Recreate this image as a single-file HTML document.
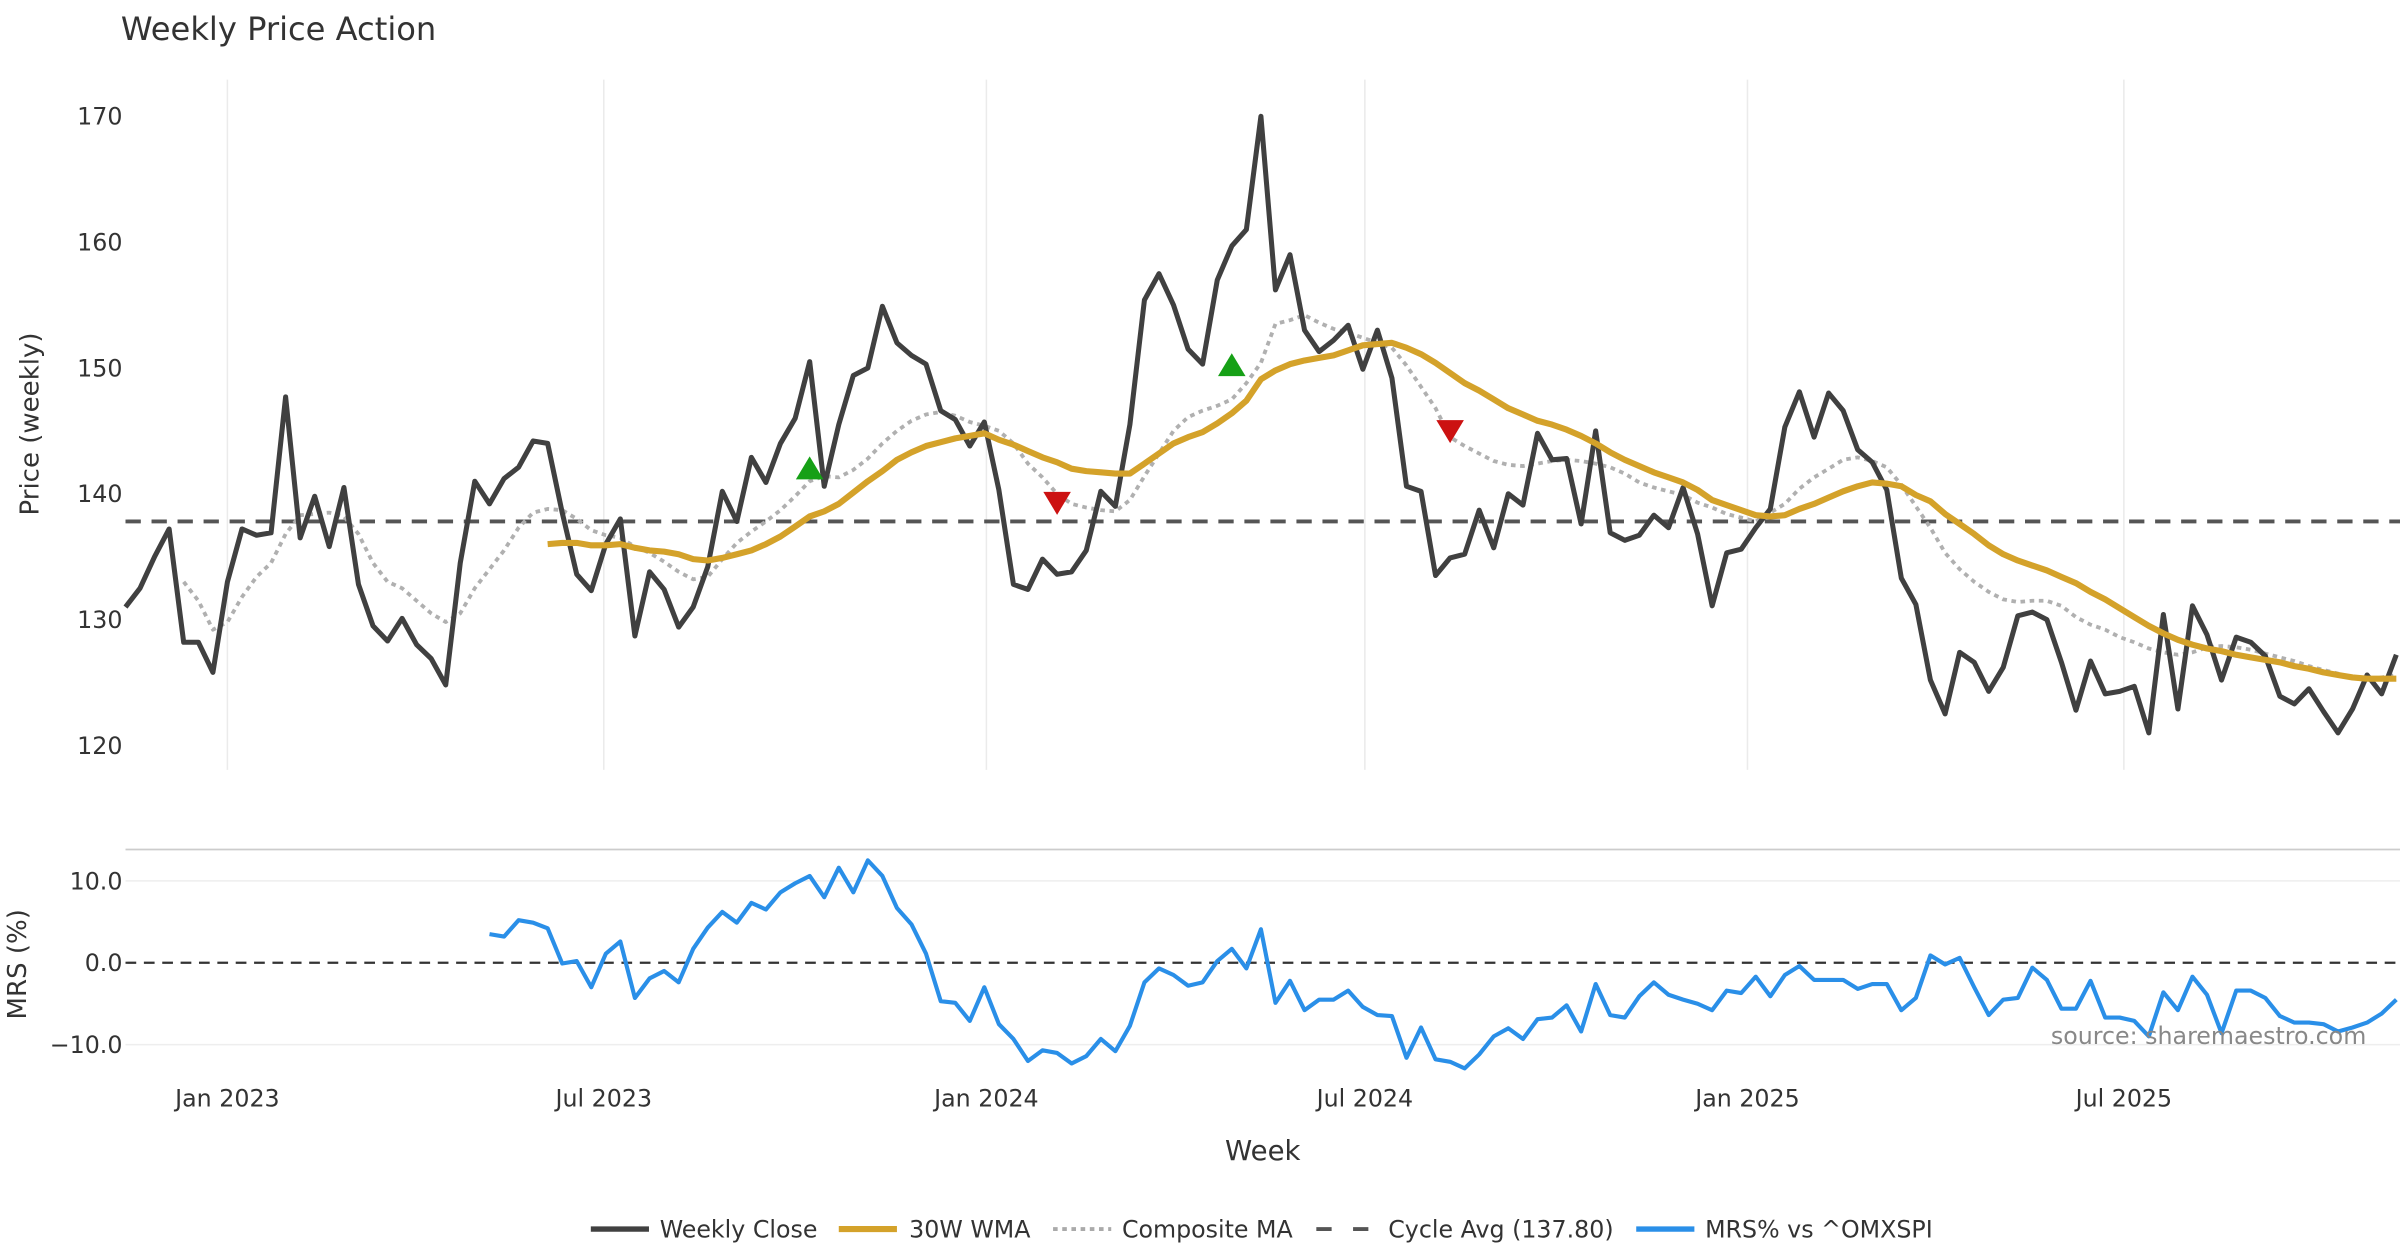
<!DOCTYPE html>
<html><head><meta charset="utf-8"><style>
html,body{margin:0;padding:0;background:#fff;}
svg{display:block;font-family:"DejaVu Sans","Liberation Sans",sans-serif;}
</style></head><body>
<svg id="chart" width="2400" height="1260" viewBox="0 0 1568 823.2" xmlns="http://www.w3.org/2000/svg">
<rect width="1568" height="823.2" fill="#fff"/>
<text x="79" y="26" font-size="21" fill="#333">Weekly Price Action</text>
<g id="grid"></g>
<g id="main"></g>
<g id="mrs"></g>
<g id="axes"></g>
<text transform="translate(25,277) rotate(-90)" text-anchor="middle" font-size="17" fill="#333">Price (weekly)</text>
<text transform="translate(17,630) rotate(-90)" text-anchor="middle" font-size="17" fill="#333">MRS (%)</text>
<text x="825" y="758" text-anchor="middle" font-size="18" fill="#333">Week</text>
<text x="1546" y="682" text-anchor="end" font-size="15.5" fill="#888">source: sharemaestro.com</text>
<g id="legend" font-size="15.5" fill="#333">
  <g><line x1="386" y1="803" x2="424" y2="803" stroke="#404040" stroke-width="3.5"/><text x="431" y="808.5">Weekly Close</text></g>
  <g><line x1="548" y1="803" x2="586" y2="803" stroke="#d4a22a" stroke-width="4"/><text x="594" y="808.5">30W WMA</text></g>
  <g><line x1="688" y1="803" x2="726" y2="803" stroke="#aaa" stroke-width="2.5" stroke-dasharray="3,3"/><text x="733" y="808.5">Composite MA</text></g>
  <g><line x1="860" y1="803" x2="898" y2="803" stroke="#555" stroke-width="2.5" stroke-dasharray="10,14"/><text x="907" y="808.5">Cycle Avg (137.80)</text></g>
  <g><line x1="1069" y1="803" x2="1107" y2="803" stroke="#2a8fe8" stroke-width="3.5"/><text x="1114" y="808.5">MRS% vs ^OMXSPI</text></g>
</g>
</svg>
<script>
const closeVals=[131,132.5,135,137.2,128.2,128.2,125.8,133,137.2,136.7,136.9,147.7,136.5,139.8,135.8,140.5,132.8,129.5,128.3,130.1,128,126.9,124.8,134.5,141,139.2,141.2,142.1,144.2,144,138.5,133.6,132.3,136,138,128.7,133.8,132.4,129.4,131,134.2,140.2,137.8,142.9,140.9,144,146,150.5,140.6,145.5,149.4,150,154.9,152,151,150.3,146.6,145.9,143.8,145.7,140.3,132.8,132.4,134.8,133.6,133.8,135.5,140.2,139,145.5,155.4,157.5,155,151.5,150.3,157,159.7,161,170,156.2,159,153,151.3,152.2,153.4,149.9,153,149.2,140.6,140.2,133.5,134.9,135.2,138.7,135.7,140,139.1,144.8,142.7,142.8,137.6,145,136.9,136.3,136.7,138.3,137.3,140.5,136.8,131.1,135.3,135.6,137.3,138.8,145.3,148.1,144.5,148,146.6,143.5,142.5,140.3,133.3,131.2,125.2,122.5,127.4,126.6,124.3,126.2,130.3,130.6,130,126.6,122.8,126.7,124.1,124.3,124.7,121,130.4,122.9,131.1,128.8,125.2,128.6,128.2,127.1,123.9,123.3,124.5,122.7,121,122.9,125.6,124.1,127.2];
const wmaStart=29;
const wmaVals=[136,136.1,136.1,135.9,135.9,136,135.7,135.5,135.4,135.2,134.8,134.7,134.9,135.2,135.5,136,136.6,137.4,138.2,138.6,139.2,140.1,141,141.8,142.7,143.3,143.8,144.1,144.4,144.6,144.8,144.3,143.9,143.4,142.9,142.5,142,141.8,141.7,141.6,141.6,142.4,143.2,144,144.5,144.9,145.6,146.4,147.4,149.1,149.8,150.3,150.6,150.8,151,151.4,151.8,151.9,152,151.6,151.1,150.4,149.6,148.8,148.2,147.5,146.8,146.3,145.8,145.5,145.1,144.6,144,143.3,142.7,142.2,141.7,141.3,140.9,140.3,139.5,139.1,138.7,138.3,138.2,138.3,138.8,139.2,139.7,140.2,140.6,140.9,140.8,140.6,139.9,139.4,138.4,137.6,136.8,135.9,135.2,134.7,134.3,133.9,133.4,132.9,132.2,131.6,130.9,130.2,129.5,128.9,128.4,128,127.7,127.5,127.2,127,126.8,126.6,126.3,126.1,125.8,125.6,125.4,125.3,125.3,125.3];
const compStart=4;
const compVals=[133,131.5,129.2,129.8,131.8,133.4,134.5,136.8,138.3,138.4,138.5,138.2,136.8,134.5,133,132.5,131.5,130.5,129.8,130.5,132.5,134,135.5,137.3,138.5,138.8,138.7,138,137.1,136.7,136.5,135.8,135.3,134.6,133.8,133.2,133.4,134.8,136.1,137,137.8,138.7,139.8,141,141.4,141.3,141.9,142.8,144,145,145.8,146.3,146.5,146.2,145.7,145.4,145,144,142.4,141.3,140,139.2,138.9,138.7,138.6,139.5,141.4,143.2,145,146.1,146.6,147,147.5,148.8,150.4,153.5,153.8,154.2,153.6,153.1,152.8,152.4,152,151.6,150.2,148.5,146.8,144.5,143.8,143.2,142.6,142.3,142.2,142.4,142.6,142.7,142.6,142.4,142.1,141.6,140.9,140.5,140.2,139.9,139.3,138.9,138.4,138.1,137.8,138.5,139.2,140.4,141.3,142,142.7,142.9,142.6,142.1,140.7,139,137.3,135.3,134,133,132.2,131.6,131.4,131.5,131.5,131.1,130.2,129.6,129.2,128.6,128.2,127.7,127.4,127.2,127.4,127.8,127.9,127.8,127.6,127.3,127,126.7,126.3,126,125.7,125.4,125.3,125.4,125.6];
const mrsStart=25;
const mrsVals=[3.5,3.2,5.2,4.9,4.2,-0.1,0.2,-3,1.1,2.6,-4.3,-1.9,-1,-2.4,1.7,4.3,6.2,4.9,7.3,6.5,8.6,9.7,10.6,8,11.6,8.6,12.5,10.6,6.7,4.7,1.1,-4.7,-4.9,-7.1,-3,-7.5,-9.3,-12,-10.7,-11,-12.3,-11.4,-9.3,-10.8,-7.7,-2.4,-0.7,-1.5,-2.8,-2.4,0.2,1.7,-0.7,4.1,-4.9,-2.2,-5.8,-4.5,-4.5,-3.4,-5.4,-6.4,-6.5,-11.6,-7.9,-11.8,-12.1,-12.9,-11.2,-9,-8,-9.3,-6.9,-6.7,-5.2,-8.4,-2.6,-6.4,-6.7,-4.1,-2.4,-3.9,-4.5,-5,-5.8,-3.4,-3.7,-1.7,-4.1,-1.5,-0.4,-2.1,-2.1,-2.1,-3.2,-2.6,-2.6,-5.8,-4.3,0.9,-0.2,0.6,-3,-6.4,-4.5,-4.3,-0.6,-2.1,-5.6,-5.6,-2.2,-6.7,-6.7,-7.1,-9,-3.6,-5.8,-1.7,-3.9,-8.6,-3.4,-3.4,-4.3,-6.5,-7.3,-7.3,-7.5,-8.4,-7.9,-7.3,-6.2,-4.5];
const buyIdx=[47,76];
const buyVals=[142,150.2];
const sellIdx=[64,91];
const sellVals=[139.3,145];
const cycleAvg=137.8;
const priceTicks=[120,130,140,150,160,170];
const mrsTicks=[10,0,-10];
const mrsTickLabels=["10.0","0.0","\u221210.0"];
const monthTicks=["2023-01-01","2023-07-01","2024-01-01","2024-07-01","2025-01-01","2025-07-01"];
const monthLabels=["Jan 2023","Jul 2023","Jan 2024","Jul 2024","Jan 2025","Jul 2025"];
const startDate="2022-11-13";

const NS="http://www.w3.org/2000/svg";
const X0=82,STEP=9.51,PL=82,PR=1568;
const xi=i=>X0+i*STEP;
const xd=d=>X0+(new Date(d)-new Date(startDate))/(7*864e5)*STEP;
const yp=v=>487-(v-120)*8.22;
const ym=v=>629-v*5.35;
function mk(tag,attrs,parent){const e=document.createElementNS(NS,tag);for(const k in attrs)e.setAttribute(k,attrs[k]);parent.appendChild(e);return e;}
const grid=document.getElementById('grid'),main=document.getElementById('main'),mrs=document.getElementById('mrs'),axes=document.getElementById('axes');

monthTicks.forEach((d,k)=>{
  const x=xd(d);
  const g=mk('line',{x1:x,x2:x,y1:52,y2:503,stroke:'#ebebeb','stroke-width':1},grid);
  
  
  const t=mk('text',{x:x,y:723,'text-anchor':'middle','font-size':15.5,fill:'#333'},axes);
  t.textContent=monthLabels[k];
  
  
});
priceTicks.forEach(v=>{
  const t=mk('text',{x:80,y:yp(v)+5.5,'text-anchor':'end','font-size':15.5,fill:'#333'},axes);
  t.textContent=v;
  
  
});
const sep=mk('line',{x1:PL,x2:PR,y1:555,y2:555,stroke:'#ccc','stroke-width':1.2},grid);


mrsTicks.forEach((v,k)=>{
  if(v!==0){const g=mk('line',{x1:PL,x2:PR,y1:ym(v),y2:ym(v),stroke:'#eeeeee','stroke-width':1},grid);
  
  }
  const t=mk('text',{x:80,y:ym(v)+5.5,'text-anchor':'end','font-size':15.5,fill:'#333'},axes);
  t.textContent=mrsTickLabels[k];
  
  
});
const zl=mk('line',{x1:PL,x2:PR,y1:ym(0),y2:ym(0),stroke:'#333','stroke-width':1.4,'stroke-dasharray':'7,5'},mrs);



function poly(vals,start,yf,attrs,parent){
  const pts=vals.map((v,i)=>xi(start+i).toFixed(1)+','+yf(v).toFixed(1)).join(' ');
  return mk('polyline',Object.assign({points:pts,fill:'none','stroke-linejoin':'round'},attrs),parent);
}
const cy=mk('line',{x1:PL,x2:PR,y1:yp(cycleAvg),y2:yp(cycleAvg),stroke:'#555','stroke-width':2.5,'stroke-dasharray':'10,7'},main);


const cp=poly(compVals,compStart,yp,{stroke:'#b0b0b0','stroke-width':2.5,'stroke-dasharray':'3,3'},main);


const cl=poly(closeVals,0,yp,{stroke:'#404040','stroke-width':3.3},main);


const wl=poly(wmaVals,wmaStart,yp,{stroke:'#d4a22a','stroke-width':4},main);


buyIdx.forEach((i,k)=>{
  const x=xi(i),y=yp(buyVals[k]);
  const p=mk('polygon',{points:`${x-9},${y+7} ${x+9},${y+7} ${x},${y-8}`,fill:'#16a016'},main);
  
  
});
sellIdx.forEach((i,k)=>{
  const x=xi(i),y=yp(sellVals[k]);
  const p=mk('polygon',{points:`${x-9},${y-7} ${x+9},${y-7} ${x},${y+8}`,fill:'#cc1111'},main);
  
  
});
const ml=poly(mrsVals,mrsStart,ym,{stroke:'#2a8fe8','stroke-width':2.7},mrs);


</script>
</body></html>
